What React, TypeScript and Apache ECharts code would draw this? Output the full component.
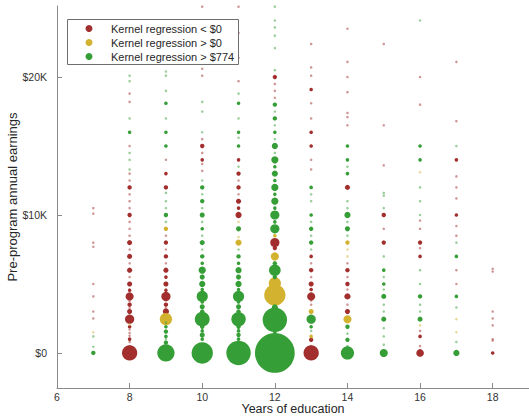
import React, { useEffect, useRef } from "react";
import * as echarts from "echarts";

// group codes: 0 = Kernel regression < $0, 1 = > $0, 2 = > $774
const R = 0;
const Y = 1;
const G = 2;

// [earnings in $, number of people, group]
const edu7 = [[0,3,G],[450,1,G],[1200,1,G],[1500,1,Y],[2500,1,R],[3000,1,R],[4100,1,R],[5000,1,R],[7700,1,R],[8000,1,R],[10100,1,R],[10500,1,R]];
const edu8 = [[0,36,R],[500,1,R],[800,1,R],[1000,2,R],[1250,1,R],[1450,1,R],[1700,1,R],[1900,2,R],[2050,1,Y],[2450,13,R],[3000,4,R],[3250,1,R],[3500,3,R],[3750,1,R],[4100,10,R],[4550,2,R],[5000,4,R],[5500,1,R],[6000,4,R],[6500,1,R],[7000,4,R],[7500,1,R],[8000,4,R],[8500,1,R],[9000,1,R],[9500,1,R],[10000,3,R],[10500,1,R],[11000,1,R],[11500,1,R],[12000,3,R],[12500,1,R],[13000,1,R],[13300,1,G],[14000,1,G],[14500,1,G],[15000,1,R],[16000,2,G],[17000,1,G],[18200,1,R],[18800,1,R],[19700,1,G],[20100,1,G]];
const edu9 = [[0,46,G],[400,1,G],[750,3,G],[1000,1,G],[1200,2,G],[1550,3,G],[1900,2,G],[2200,1,G],[2450,23,Y],[2750,1,R],[3000,6,R],[3250,1,R],[3500,3,R],[3800,1,R],[4100,13,R],[4550,2,R],[5000,4,R],[5500,2,R],[6000,4,R],[6500,1,R],[7000,3,R],[7500,1,R],[8000,3,R],[8500,1,R],[9000,3,Y],[9500,1,G],[10000,3,G],[10500,1,G],[11000,1,G],[11600,1,G],[12000,3,R],[13000,2,R],[14000,1,R],[15000,2,G],[16000,2,G],[17000,1,G],[18100,2,G],[19000,1,G],[20100,1,G],[20400,1,G]];
const edu10 = [[0,70,G],[600,2,G],[1000,2,G],[1300,4,G],[1600,2,G],[1900,3,G],[2450,34,G],[3000,3,G],[3350,4,G],[3700,2,G],[4100,19,G],[4600,2,G],[5000,6,G],[5500,4,G],[6000,8,G],[6500,2,G],[7000,3,G],[7500,1,G],[8000,4,G],[8500,1,G],[9000,2,G],[9500,1,G],[10000,4,G],[10500,1,G],[11000,3,G],[11500,1,G],[12000,3,G],[12500,1,G],[13200,1,R],[13700,1,R],[14000,2,R],[14500,1,R],[15000,3,R],[15500,1,R],[16000,1,G],[17500,1,G],[18200,1,G],[20100,1,R],[20600,1,R],[25100,1,R]];
const edu11 = [[0,92,G],[600,2,G],[1000,2,G],[1300,3,G],[1600,2,G],[1900,3,G],[2450,32,G],[3000,3,G],[3350,4,G],[3700,2,G],[4100,19,G],[4600,2,G],[5000,6,G],[5500,4,G],[6000,6,G],[6500,2,G],[7000,3,G],[7500,1,G],[8000,6,Y],[8400,1,Y],[9000,4,G],[9500,1,Y],[10000,6,R],[10500,2,R],[11000,4,R],[11500,1,R],[12000,3,R],[12500,1,R],[13000,3,R],[13500,1,G],[14000,2,R],[15000,2,G],[15600,1,G],[16000,2,G],[17000,1,G],[18100,2,G],[18800,1,G],[19700,1,R],[21400,1,R],[23200,1,R],[25100,1,R]];
const edu12 = [[0,243,G],[800,2,G],[1500,2,G],[2400,92,G],[3300,6,G],[4200,70,Y],[5050,23,Y],[5500,3,G],[6000,21,G],[6500,3,G],[7000,10,Y],[7600,3,R],[8000,13,R],[8500,2,Y],[9000,13,G],[9500,2,G],[10000,13,G],[10500,2,G],[11000,8,G],[11500,2,G],[12000,8,G],[12500,2,G],[13000,6,G],[13500,2,G],[14000,8,G],[14500,1,G],[15000,6,G],[15500,1,G],[16000,2,G],[16500,1,G],[17000,3,G],[17500,1,G],[18000,3,G],[18500,1,R],[19000,1,R],[19500,1,R],[20000,3,R],[20500,1,G],[22100,1,G],[23000,1,G],[23600,1,G],[24100,1,G],[25100,1,G]];
const edu13 = [[0,36,R],[500,1,R],[950,3,R],[1200,2,Y],[1600,1,G],[1900,2,G],[2450,13,G],[3000,4,Y],[3500,1,R],[3800,1,R],[4100,10,R],[4600,2,R],[5000,4,R],[5500,1,R],[6000,3,R],[6500,1,R],[7000,2,R],[7500,1,G],[8000,3,G],[8500,1,G],[9000,3,G],[9500,1,G],[10000,2,G],[11000,1,G],[11500,1,G],[12000,2,G],[13300,1,R],[14000,1,R],[15000,2,R],[16000,2,R],[17000,1,R],[18100,1,R],[19100,2,R],[20100,1,R],[20700,1,R],[22400,1,R]];
const edu14 = [[0,27,G],[500,1,G],[950,3,G],[1400,1,G],[1900,3,G],[2450,10,Y],[3000,4,R],[3500,1,R],[4100,6,R],[4600,1,R],[5000,3,R],[5500,1,R],[6000,3,R],[6500,1,R],[7000,1,Y],[7500,1,Y],[8000,3,Y],[8500,1,G],[9000,4,G],[9500,1,G],[10000,6,G],[10500,1,G],[11000,1,G],[12000,4,R],[13000,2,G],[13500,1,G],[14000,2,G],[15000,2,G],[16500,1,R],[17100,1,R],[17400,1,R],[18900,1,R],[20000,1,R],[21100,1,R],[23500,1,R]];
const edu15 = [[0,10,G],[200,1,G],[600,1,G],[1200,1,G],[1800,1,G],[2450,4,G],[3000,1,G],[3500,1,G],[4100,4,G],[4600,1,G],[5000,2,G],[5500,1,G],[6000,2,G],[7000,1,G],[8000,3,R],[9000,1,R],[10000,3,R],[10500,1,G],[11400,1,G],[11600,1,G],[13600,1,R],[16500,1,R],[22400,1,R]];
const edu16 = [[0,9,R],[500,1,R],[1200,2,R],[1600,1,R],[2000,1,Y],[2450,4,G],[3000,1,G],[3500,1,G],[4100,3,G],[5000,1,G],[6000,1,G],[7000,2,R],[7600,1,R],[8000,3,R],[9000,1,R],[9600,1,R],[10000,1,G],[11000,1,G],[12000,1,G],[13100,1,Y],[14000,2,G],[15000,2,G],[18000,1,R],[20000,1,R],[24100,1,G]];
const edu17 = [[0,6,G],[800,1,G],[1500,1,Y],[2450,1,Y],[3300,1,G],[4100,2,G],[5000,1,R],[6000,1,R],[7000,2,G],[8000,1,G],[8500,1,R],[9200,1,R],[10000,2,R],[11200,1,R],[12000,1,R],[12800,1,R],[14000,2,R],[15000,1,G],[16800,1,R],[21100,1,R]];
const edu18 = [[0,2,R],[900,1,R],[1000,1,R],[2000,1,R],[2500,1,R],[3000,1,R],[5900,1,R],[6100,1,R]];

const educationYears = [7, 8, 9, 10, 11, 12, 13, 14, 15, 16, 17, 18];
const columns = [edu7, edu8, edu9, edu10, edu11, edu12, edu13, edu14, edu15, edu16, edu17, edu18];

const groupNames = ["Kernel regression < $0", "Kernel regression > $0", "Kernel regression > $774"];
const groupColors = ["#a22e2e", "#d2b22f", "#369e36"];

const xTickValues = [6, 8, 10, 12, 14, 16, 18];
const yTickValues = [0, 10000, 20000];

const FONT = "'Liberation Sans', Arial, Helvetica, sans-serif";

export default function App() {
  const ref = useRef<HTMLDivElement>(null);

  useEffect(() => {
    if (!ref.current) return;
    const chart = echarts.init(ref.current, undefined, { renderer: "svg" });

    const series = groupNames.map((name, g) => {
      const data: any[] = [];
      columns.forEach((col, ci) => {
        col.forEach(([earn, n, grp]) => {
          if (grp !== g) return;
          data.push({
            value: [educationYears[ci], earn, n],
            itemStyle: n <= 1 ? { opacity: 0.5 } : undefined,
          });
        });
      });
      data.sort((a, b) => b.value[2] - a.value[2]);
      return {
        name,
        type: "scatter",
        data,
        symbol: "circle",
        symbolSize: (v: number[]) => Math.max(2, 2.55 * Math.sqrt(v[2])),
        itemStyle: { color: groupColors[g], opacity: 1 },
        emphasis: { disabled: true },
        silent: true,
      };
    });

    const legendTop = 19;
    const legendLeft = 67;
    const legendElems: any[] = [
      {
        type: "rect",
        shape: { x: legendLeft + 0.5, y: legendTop + 0.5, width: 171, height: 45 },
        style: { fill: "#ffffff", stroke: "#6e6e6e", lineWidth: 1 },
        z: 100,
      },
    ];
    groupNames.forEach((name, g) => {
      const cy = legendTop + 9.5 + g * 14;
      legendElems.push({
        type: "circle",
        shape: { cx: 89, cy, r: 3.5 },
        style: { fill: groupColors[g] },
        z: 101,
      });
      legendElems.push({
        type: "text",
        x: 111,
        y: cy,
        style: {
          text: name,
          fill: "#262626",
          font: `11px ${FONT}`,
          textVerticalAlign: "middle",
          verticalAlign: "middle",
        },
        z: 101,
      });
    });

    chart.setOption({
      animation: false,
      backgroundColor: "#ffffff",
      textStyle: { fontFamily: FONT },
      grid: { left: 57, right: 0, top: 6, bottom: 28, containLabel: false, outerBoundsMode: "none" },
      xAxis: {
        type: "value",
        min: 6,
        max: 19,
        name: "Years of education",
        nameLocation: "middle",
        nameGap: 14.5,
        nameMoveOverlap: false,
        nameTextStyle: { color: "#262626", fontSize: 12.5, lineHeight: 13, fontFamily: FONT },
        axisLine: { show: true, onZero: false, lineStyle: { color: "#8a8a8a", width: 1 } },
        axisTick: { show: true, inside: true, length: 5, customValues: xTickValues, lineStyle: { color: "#8a8a8a" } },
        axisLabel: {
          customValues: xTickValues,
          color: "#333333",
          fontSize: 10.5,
          lineHeight: 11,
          margin: 3,
          fontFamily: FONT,
        },
        splitLine: { show: false },
      },
      yAxis: {
        type: "value",
        min: -2540,
        max: 25150,
        name: "Pre-program annual earnings",
        nameLocation: "middle",
        nameGap: 38,
        nameMoveOverlap: false,
        nameTextStyle: { color: "#262626", fontSize: 13, fontFamily: FONT },
        axisLine: { show: true, onZero: false, lineStyle: { color: "#8a8a8a", width: 1 } },
        axisTick: { show: true, inside: true, length: 5, customValues: yTickValues, lineStyle: { color: "#8a8a8a" } },
        axisLabel: {
          customValues: yTickValues,
          color: "#333333",
          fontSize: 10.5,
          margin: 10,
          fontFamily: FONT,
          formatter: (v: number) => (v === 0 ? "$0" : "$" + Math.round(v / 1000) + "K"),
        },
        splitLine: { show: false },
      },
      series,
      graphic: { elements: legendElems },
    });

    return () => chart.dispose();
  }, []);

  return <div ref={ref} style={{ position: "fixed", left: 0, top: 0, width: 529, height: 416 }} />;
}
